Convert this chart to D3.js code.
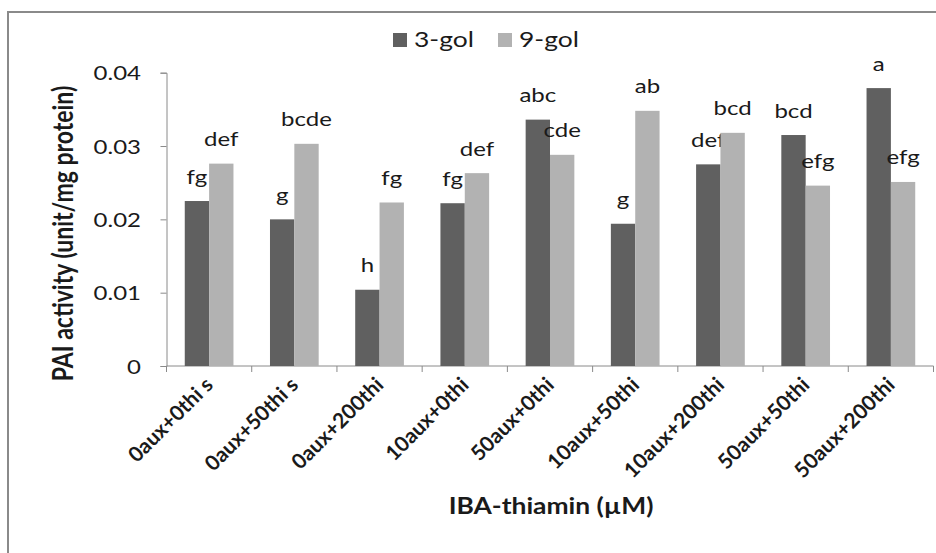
<!DOCTYPE html>
<html>
<head>
<meta charset="utf-8">
<script src="https://cdn.jsdelivr.net/npm/d3@7"></script>
<style>
  html, body { margin: 0; padding: 0; background: #fff; }
  svg { display: block; }
  text { font-family: Lato, "Open Sans", sans-serif; fill: #1a1a1a; }
</style>
</head>
<body>
<svg id="chart" width="936" height="553"></svg>
<script>
// Treatments (IBA auxin + thiamin, µM)
const categories = ["0aux+0thi s", "0aux+50thi s", "0aux+200thi", "10aux+0thi", "50aux+0thi",
                    "10aux+50thi", "10aux+200thi", "50aux+50thi", "50aux+200thi"];
const seriesNames = ["3-gol", "9-gol"];
// PAL activity (unit/mg protein)
const gol3 = [0.0225, 0.0200, 0.0104, 0.0222, 0.0336, 0.0194, 0.0275, 0.0315, 0.0379];
const gol9 = [0.0276, 0.0303, 0.0223, 0.0263, 0.0288, 0.0348, 0.0318, 0.0246, 0.0251];
// Duncan grouping letters
const letters3 = ["fg", "g", "h", "fg", "abc", "g", "def", "bcd", "a"];
const letters9 = ["def", "bcde", "fg", "def", "cde", "ab", "bcd", "efg", "efg"];
const yTicks = [0, 0.01, 0.02, 0.03, 0.04];
const colors = ["#606060", "#b2b2b2"];

// horizontal widening applied to upright text
const K = 1.2;

const svg = d3.select("#chart");
const W = 936, H = 553;
const plot = { left: 166.5, right: 933.5, top: 72.7, bottom: 366 };

// outer chart frame (top and left edges)
svg.append("path")
  .attr("d", `M8,${H} V12 H${W}`)
  .attr("fill", "none").attr("stroke", "#8a8a8a").attr("stroke-width", 2);

const x = d3.scaleBand().domain(categories).range([plot.left, plot.right]);
// gap width 150%: each side of a pair gets 0.75 of a bar width
const inner = d3.scaleBand().domain(seriesNames).range([0, x.bandwidth()])
  .paddingInner(0).paddingOuter(0.75);
const y = d3.scaleLinear().domain([0, 0.04]).range([plot.bottom, plot.top]);

// y axis
const yAxis = svg.append("g")
  .attr("transform", `translate(${plot.left},0)`)
  .call(d3.axisLeft(y).tickValues(yTicks).tickSize(6)
        .tickFormat(d => d === 0 ? "0" : d3.format(".2f")(d)));
yAxis.select(".domain").attr("stroke", "#8a8a8a");
yAxis.selectAll(".tick line").attr("stroke", "#8a8a8a");
yAxis.selectAll(".tick text")
  .attr("x", null).attr("dy", "0.36em")
  .attr("transform", `translate(-25.5,0) scale(${K},1)`)
  .attr("font-size", 20).attr("fill", "#1a1a1a")
  .attr("font-family", "Lato, sans-serif");

// x axis with boundary ticks between categories
const xAxisG = svg.append("g").attr("transform", `translate(0,${plot.bottom})`);
xAxisG.append("line").attr("x1", plot.left).attr("x2", plot.right)
  .attr("stroke", "#8a8a8a");
const bounds = categories.map(c => x(c)).concat([plot.right]);
xAxisG.selectAll("line.tk").data(bounds).join("line").attr("class", "tk")
  .attr("x1", d => d).attr("x2", d => d).attr("y1", 0).attr("y2", 6)
  .attr("stroke", "#8a8a8a");

// rotated category labels
xAxisG.selectAll("text.cat").data(categories).join("text").attr("class", "cat")
  .attr("transform", c => `translate(${x(c) + x.bandwidth() / 2},${15}) rotate(-45)`)
  .attr("text-anchor", "end").attr("font-size", 21).attr("font-weight", "bold")
  .attr("dy", "0.35em")
  .text(c => c);

// bars and grouping letters
const series = [gol3, gol9];
const lettersAll = [letters3, letters9];
const groups = svg.append("g");
series.forEach((vals, si) => {
  groups.selectAll(null).data(vals).join("rect")
    .attr("x", (v, i) => x(categories[i]) + inner(seriesNames[si]))
    .attr("y", v => y(v))
    .attr("width", inner.bandwidth())
    .attr("height", v => y(0) - y(v))
    .attr("fill", colors[si]);
  groups.selectAll(null).data(vals).join("text")
    .attr("transform", (v, i) =>
      `translate(${x(categories[i]) + inner(seriesNames[si]) + inner.bandwidth() / 2},${y(v) - 17.5}) scale(${K},1)`)
    .attr("text-anchor", "middle").attr("font-size", 20)
    .text((v, i) => lettersAll[si][i]);
});

// legend
const legend = svg.append("g").attr("transform", "translate(393,33)");
seriesNames.forEach((name, i) => {
  const g = legend.append("g").attr("transform", `translate(${i * 105},0)`);
  g.append("rect").attr("width", 14).attr("height", 14).attr("fill", colors[i]);
  g.append("text").attr("transform", `translate(21,14) scale(1.26,1)`)
    .attr("font-size", 21).text(name);
});

// axis titles
svg.append("text")
  .attr("transform", `translate(73,233.5) scale(1.25,1) rotate(-90)`)
  .attr("text-anchor", "middle").attr("font-size", 23).attr("font-weight", "bold")
  .text("PAI activity (unit/mg protein)");
svg.append("text")
  .attr("transform", `translate(551,514) scale(${K},1)`)
  .attr("text-anchor", "middle").attr("font-size", 22).attr("font-weight", "bold")
  .text("IBA-thiamin (µM)");
</script>
</body>
</html>
